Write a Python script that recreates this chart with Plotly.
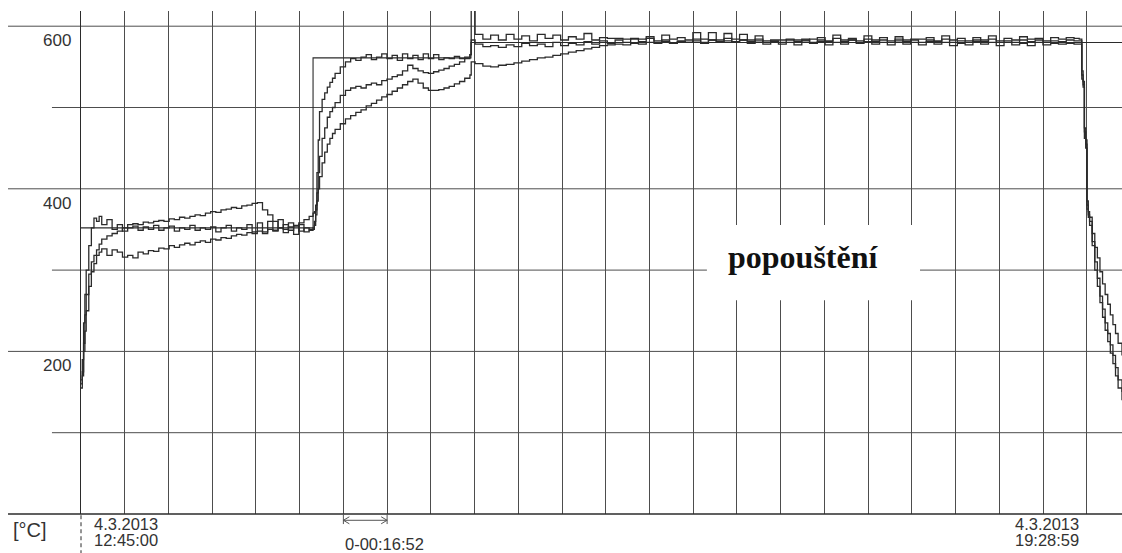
import plotly.graph_objects as go

# ---- data: time in minutes after 4.3.2013 12:45:00, temperatures in °C ----
minutes = [
    # heating to first hold
    0, 0.5, 1, 1.5, 2, 3, 4, 5, 6, 7, 8,
    10, 12, 14, 16, 18, 20, 22, 24, 26, 28,
    30, 32, 34, 36, 38, 40, 42, 44, 46, 48,
    50, 52, 54, 56, 58, 60, 62, 64, 66, 68,
    70, 72, 74, 76, 78, 80, 82, 84, 86, 88, 89.5,
    # second step
    90, 90.5, 91, 91.5, 92, 93, 94, 95, 96, 97, 98,
    100, 102, 104, 106, 108, 110, 112, 114, 116, 118,
    120, 122, 124, 126, 128, 130, 132, 134, 136, 138,
    140, 142, 144, 146, 148, 150,
    # tempering hold
    150.5,
    152, 155, 158, 161, 164, 167, 170, 173, 176, 179,
    182, 185, 188, 191, 194, 197, 200, 203, 206, 209,
    212, 215, 218, 221, 224, 227, 230, 233, 236, 239,
    242, 245, 248, 251, 254, 257, 260, 263, 266, 269,
    272, 275, 278, 281, 284, 287, 290, 293, 296, 299,
    302, 305, 308, 311, 314, 317, 320, 323, 326, 329,
    332, 335, 338, 341, 344, 347, 350, 353, 356, 359,
    362, 365, 368, 371, 374, 377, 380, 383,
    # cooling
    385, 386, 386.5, 387, 387.5, 388, 388.5, 389, 390, 391,
    392, 393, 394, 395, 396, 397, 398, 399, 400, 401.5,
]

curve_a = [
    165, 190, 235, 270, 300, 330, 352, 364, 360, 366, 356,
    362, 350, 356, 348, 352, 354, 349, 353, 350, 355,
    349, 352, 354, 348, 352, 350, 355, 349, 352, 350,
    353, 347, 352, 355, 348, 352, 350, 356, 347, 358,
    345, 360, 348, 362, 346, 358, 344, 356, 347, 350, 352,
    360, 380, 420, 460, 495, 510, 518, 525, 531, 536, 542,
    550, 556, 560, 558, 562, 565, 559, 562, 566, 560,
    564, 558, 566, 560, 564, 559, 566, 560, 565, 559,
    561, 560, 563, 560, 562, 565,
    625,
    590, 584, 589, 583, 590, 584, 588, 582, 590, 585,
    589, 583, 587, 584, 591, 583, 586, 585, 585, 584,
    585, 584, 587, 582, 589, 584, 586, 583, 592, 584,
    592, 583, 591, 584, 590, 583, 588, 582, 583, 583,
    584, 583, 583, 584, 586, 582, 589, 583, 585, 582,
    588, 583, 586, 582, 587, 583, 584, 584, 586, 582,
    588, 583, 585, 582, 586, 583, 588, 582, 585, 583,
    587, 584, 585, 582, 586, 584, 586, 585,
    584, 540, 528, 470, 455, 380, 368, 360, 335, 310,
    290, 268, 252, 235, 222, 208, 195, 180, 165, 150,
]

curve_b = [
    160, 175, 210, 245, 270, 295, 310, 318, 325, 332, 338,
    342, 345, 348, 352, 356, 357, 356, 359, 358, 360,
    361, 360, 363, 362, 365, 364, 366, 368, 367, 370,
    372, 371, 374, 375, 377, 376, 379, 380, 382, 383,
    374, 368, 360, 352, 356, 349, 354, 348, 352, 349, 350,
    355, 368, 395, 420, 440, 462, 475, 488, 495, 500, 506,
    515, 521, 524, 526, 524, 528, 530, 528, 533, 535,
    538, 540, 545, 552, 548, 545, 543, 542, 544, 546,
    548, 551, 553, 556, 560, 565,
    583,
    578, 575, 576, 574, 577, 575, 579, 576, 578, 575,
    580, 576, 579, 577, 581, 578, 582, 579, 583, 580,
    584, 581, 585, 580, 583, 579, 582, 580, 584, 579,
    583, 580, 585, 581, 583, 579, 582, 578, 581, 578,
    580, 577, 582, 579, 581, 577, 580, 578, 583, 579,
    581, 578, 580, 577, 582, 578, 580, 577, 581, 578,
    580, 576, 579, 577, 581, 578, 580, 576, 580, 577,
    579, 576, 580, 577, 579, 578, 579, 578,
    578, 535, 525, 462, 450, 375, 365, 355, 330, 300,
    280, 260, 242, 226, 212, 198, 185, 170, 155, 140,
]

curve_c = [
    155, 170, 200, 225, 250, 280, 298, 308, 318, 322, 326,
    318, 325, 322, 316, 318, 315, 322, 320, 324, 323,
    327, 326, 330, 328, 331, 333, 331, 334, 336, 334,
    338, 337, 340, 339, 342, 344, 343, 346, 345, 348,
    347, 350, 349, 352, 350, 353, 355, 358, 362, 366, 370,
    372, 374, 385, 400, 415, 432, 445, 455, 462, 468, 473,
    480, 486, 490, 494, 497, 502, 505, 509, 513, 516,
    520, 524, 528, 532, 535, 530, 524, 521, 521, 522,
    524, 526, 529, 532, 536, 540,
    556,
    554, 551, 550, 552, 553, 555, 557, 559, 561, 562,
    564, 566, 568, 570, 572, 574, 576, 577, 578, 577,
    579, 578, 580, 579, 581, 579, 581, 580, 582, 580,
    583, 581, 582, 580, 583, 581, 584, 580, 582, 580,
    583, 581, 584, 580, 583, 581, 585, 581, 583, 580,
    584, 581, 583, 580, 584, 581, 583, 580, 583, 581,
    584, 580, 582, 580, 583, 581, 584, 580, 582, 580,
    583, 581, 583, 580, 582, 581, 583, 582,
    582, 545, 532, 475, 460, 385, 372, 365, 345, 328,
    315, 298, 283, 270, 258, 245, 233, 222, 210, 195,
]

setpoint_minutes = [0, 89.5, 150.4, 401.5]
setpoint_values = [352, 561, 580, 580]

grid_interval_min = 16.8667          # 0-00:16:52
n_grid = 24
y_labels = [200, 400, 600]
y_grid = [100, 200, 300, 400, 500, 600]
x_range = [0, 401.5]
y_range = [0, 618.7]

label_start = ["4.3.2013", "12:45:00"]
label_end = ["4.3.2013", "19:28:59"]
interval_label = "0-00:16:52"
unit_label = "[°C]"
phase_label = "popouštění"

# ---- figure ----
INK = "#2b2b2b"
GRID = "#4d4d4d"
SANS = "Arial, Liberation Sans, sans-serif"

fig = go.Figure()
for vals in (curve_a, curve_b, curve_c):
    fig.add_trace(go.Scatter(
        x=minutes, y=vals, mode="lines",
        line=dict(color=INK, width=1.3, shape="hv"),
        hoverinfo="skip", showlegend=False))
fig.add_trace(go.Scatter(
    x=setpoint_minutes, y=setpoint_values, mode="lines",
    line=dict(color=INK, width=1.1, shape="hv"),
    hoverinfo="skip", showlegend=False))

grid_ticks = [k * grid_interval_min for k in range(n_grid)]

fig.update_xaxes(
    range=x_range, tickvals=grid_ticks[1:], showticklabels=False,
    showgrid=True, gridcolor=GRID, gridwidth=1,
    zeroline=False, showline=False, ticks="")
fig.update_yaxes(
    range=y_range, tickvals=y_labels, ticktext=[str(v) for v in y_labels],
    showgrid=False, zeroline=False, showline=True, linecolor=INK, linewidth=1.2,
    ticks="", ticklabelshift=14, ticklabelstandoff=5,
    tickfont=dict(family=SANS, size=17, color="#333"))

shapes = []
for v in y_grid:
    x0 = -0.0701 if v in y_labels else -0.0279
    shapes.append(dict(type="line", xref="paper", yref="y", x0=x0, x1=1, y0=v, y1=v,
                       line=dict(color=GRID, width=1), layer="below"))
# base line (0 °C) extended left
shapes.append(dict(type="line", xref="paper", yref="paper", x0=-0.0701, x1=1, y0=0, y1=0,
                   line=dict(color=INK, width=1.5)))
# dashed continuation of the value axis below the chart
shapes.append(dict(type="line", xref="paper", yref="paper", x0=0, x1=0, y0=-0.08, y1=0,
                   line=dict(color=INK, width=1, dash="4px,3px")))
# interval marker below axis
xa, xb = grid_ticks[6], grid_ticks[7]
ya = -0.0125
shapes.append(dict(type="line", xref="x", yref="paper", x0=xa, x1=xb, y0=ya, y1=ya,
                   line=dict(color="#555", width=1)))
for xv in (xa, xb):
    shapes.append(dict(type="line", xref="x", yref="paper", x0=xv, x1=xv, y0=0, y1=-0.02,
                       line=dict(color="#555", width=1)))
dx, dy = 2.3, 0.007
shapes.append(dict(type="path", xref="x", yref="paper",
                   path=f"M{xa+dx},{ya+dy} L{xa},{ya} L{xa+dx},{ya-dy}",
                   line=dict(color="#555", width=1)))
shapes.append(dict(type="path", xref="x", yref="paper",
                   path=f"M{xb-dx},{ya+dy} L{xb},{ya} L{xb-dx},{ya-dy}",
                   line=dict(color="#555", width=1)))
# white label box
shapes.append(dict(type="rect", xref="x", yref="y", x0=241.4, x1=323.6, y0=263, y1=355.5,
                   fillcolor="white", line=dict(width=0), layer="above"))

TXT = dict(family=SANS, size=16.5, color="#333")
ann = [
    dict(text=unit_label, xref="paper", yref="paper", x=-0.049, y=-0.032,
         xanchor="center", yanchor="middle", showarrow=False,
         font=dict(family=SANS, size=20, color="#333")),
    dict(text=label_start[0], xref="paper", yref="paper", x=0.0106, y=-0.0206,
         xanchor="left", yanchor="middle", showarrow=False, font=TXT),
    dict(text=label_start[1], xref="paper", yref="paper", x=0.0106, y=-0.0507,
         xanchor="left", yanchor="middle", showarrow=False, font=TXT),
    dict(text=label_end[0], xref="paper", yref="paper", x=0.9606, y=-0.0206,
         xanchor="right", yanchor="middle", showarrow=False, font=TXT),
    dict(text=label_end[1], xref="paper", yref="paper", x=0.9606, y=-0.0507,
         xanchor="right", yanchor="middle", showarrow=False, font=TXT),
    dict(text=interval_label, xref="x", yref="paper", x=grid_ticks[6] - 0.3, y=-0.0596,
         xanchor="left", yanchor="middle", showarrow=False, font=TXT),
    dict(text=f"<b>{phase_label}</b>", xref="x", yref="y", x=278.5, y=316,
         xanchor="center", yanchor="middle", showarrow=False,
         font=dict(family="Times New Roman, Liberation Serif, serif", size=32, color="#111")),
]

fig.update_layout(
    width=1122, height=553, autosize=False,
    margin=dict(l=81, r=0, t=11, b=39, pad=0),
    paper_bgcolor="white", plot_bgcolor="white",
    shapes=shapes, annotations=ann, showlegend=False,
)

# remove the default page margin so the figure fills the window exactly
fig.write_html(
    "out.html",
    config={"displayModeBar": False, "staticPlot": True},
    post_script="document.body.style.margin='0';document.body.style.overflow='hidden';",
)
